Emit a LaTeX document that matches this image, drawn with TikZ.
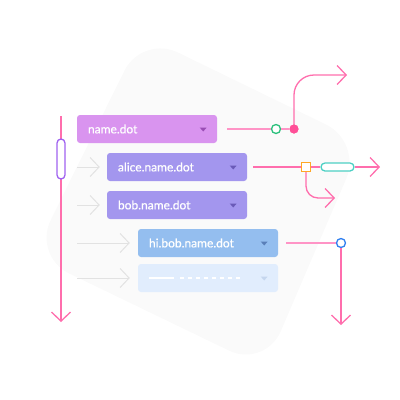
\documentclass[tikz,border=0pt]{standalone}
\usepackage{fontspec}
\setmainfont{Lato}
\newfontfamily\boxfont{Lato}[FakeBold=0.7]
\usetikzlibrary{arrows.meta}
\definecolor{bgc}{HTML}{FAFAFA}
\definecolor{pinkc}{HTML}{FF6EAD}
\definecolor{pinklight}{HTML}{FF94C6}
\definecolor{pinkdot}{HTML}{FF4F97}
\definecolor{grayc}{HTML}{E2E2E2}
\definecolor{greenc}{HTML}{2BC07C}
\definecolor{orangec}{HTML}{FFA726}
\definecolor{tealc}{HTML}{4DD0C4}
\definecolor{bluec}{HTML}{2F7FF0}
\definecolor{purplec}{HTML}{A062F0}
\definecolor{boxa}{HTML}{D994EF}
\definecolor{boxb}{HTML}{A396EE}
\definecolor{boxc}{HTML}{94BEEF}
\definecolor{boxd}{HTML}{E1EDFD}
\definecolor{tria}{HTML}{9A4DB5}
\definecolor{trib}{HTML}{6A5AB8}
\definecolor{tric}{HTML}{5A7FB8}
\definecolor{trid}{HTML}{C5D6EE}
\begin{document}
\begin{tikzpicture}[x=1pt,y=-1pt,
  boxnode/.style={rectangle, rounded corners=3pt, minimum height=28pt,
    text width=118pt, inner xsep=11pt, inner ysep=0pt, align=left,
    text=white, font=\boxfont\fontsize{12}{14}\selectfont, anchor=center},
  pinkline/.style={draw=pinkc, line width=1.3pt},
  pinkarrow/.style={pinkline, -{Straight Barb[length=9pt,width=19pt]}},
  grayarrow/.style={draw=grayc, line width=1pt, -{Straight Barb[length=9pt,width=19pt]}},
  opencircle/.style={circle, draw, fill=white, line width=1.3pt, minimum size=9pt, inner sep=0pt},
  ]
\useasboundingbox (0,0) rectangle (400,400);
% background
\fill[bgc, rounded corners=40pt] (142,35) -- (362,142) -- (265,368) -- (33,256) -- cycle;

% boxes
\node[boxnode, fill=boxa] (n1) at (147,129) {name.dot};
\node[boxnode, fill=boxb] (n2) at (177,167) {alice.name.dot};
\node[boxnode, fill=boxb] (n3) at (177,205) {bob.name.dot};
\node[boxnode, fill=boxc] (n4) at (208,243) {hi.bob.name.dot};
\node[boxnode, fill=boxd] (n5) at (208,278) {};

% dropdown triangles
\foreach \b/\c in {n1/tria, n2/trib, n3/trib, n4/tric, n5/trid}{
  \fill[\c] ([xshift=-17.5pt,yshift=1.5pt]\b.east) -- ([xshift=-10.5pt,yshift=1.5pt]\b.east) -- ([xshift=-14pt,yshift=-2.5pt]\b.east) -- cycle;
}
% placeholder lines in the blank box
\draw[white, line width=1.8pt] ([xshift=11pt]n5.west) -- ([xshift=36pt]n5.west);
\draw[white, line width=1.8pt, dash pattern=on 4.5pt off 3.5pt] ([xshift=42pt]n5.west) -- ([xshift=106pt]n5.west);

% gray arrows
\coordinate (g1) at (77,167);
\coordinate (g2) at (77,205);
\coordinate (g3) at (77,243);
\coordinate (g4) at (77,278);
\draw[grayarrow] (g1) -- ([xshift=-7pt]n2.west);
\draw[grayarrow] (g2) -- ([xshift=-7pt]n3.west);
\draw[grayarrow] (g3) -- ([xshift=-8pt]n4.west);
\draw[grayarrow] (g4) -- ([xshift=-8pt]n5.west);

% left vertical arrow with pill
\coordinate (lt) at (61,116);
\coordinate (lb) at (61,322);
\draw[pinkarrow] (lt) -- (lb);
\node[draw=purplec, fill=white, line width=1.3pt, rounded corners=4pt, minimum width=8pt, minimum height=40pt, inner sep=0pt] (pill) at (61,159) {};

% name.dot branch
\coordinate (s1) at (227,129);
\coordinate (e1) at (347,75);
\node[opencircle, draw=greenc] (gc) at (276,129) {};
\node[circle, fill=pinkdot, minimum size=9pt, inner sep=0pt] (pd) at (294,129) {};
\draw[draw=pinklight, line width=1.3pt] (s1) -- (gc);
\draw[draw=pinklight, line width=1.3pt] (gc) -- (pd);
\draw[pinkarrow, rounded corners=20pt] (pd.center) |- (e1);
\node[circle, fill=pinkdot, minimum size=9pt, inner sep=0pt] at (pd) {};

% alice branch
\coordinate (s2) at (253,167);
\coordinate (e2) at (380,167);
\coordinate (e3) at (335,198);
\node[draw=orangec, fill=white, line width=1.3pt, minimum size=9pt, inner sep=0pt] (sq) at (306,167) {};
\node[draw=tealc, fill=white, line width=1.3pt, rounded corners=4pt, minimum width=33pt, minimum height=8pt, inner sep=0pt] (tp) at (337.5,167) {};
\draw[pinkline] (s2) -- (sq);
\draw[pinkline] (sq) -- (tp);
\draw[pinkarrow] (tp) -- (e2);
\draw[pinkarrow, rounded corners=12pt] (sq.south) |- (e3);

% hi.bob branch
\coordinate (s4) at (286,243);
\coordinate (e4) at (341,325);
\node[opencircle, draw=bluec] (bc) at (341,243) {};
\draw[draw=pinklight, line width=1.3pt] (s4) -- (bc);
\draw[pinkarrow] (bc) -- (e4);
\end{tikzpicture}
\end{document}
